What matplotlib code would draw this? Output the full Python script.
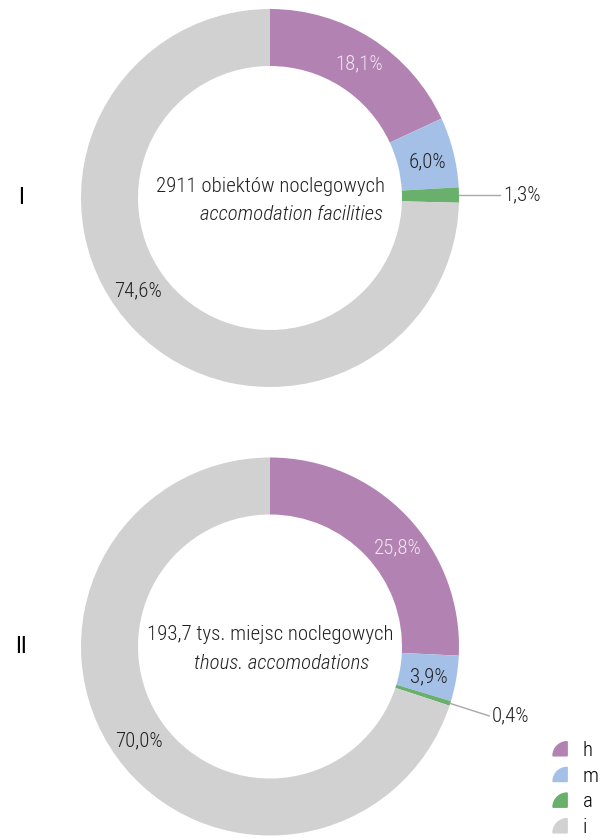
import matplotlib
matplotlib.use("Agg")
import numpy as np
import matplotlib.pyplot as plt
from matplotlib import font_manager
from matplotlib.patches import Wedge, Patch
from matplotlib.legend_handler import HandlerPatch

# data
categories = ["h", "m", "a", "i"]
shares_I = [18.1, 6.0, 1.3, 74.6]
shares_II = [25.8, 3.9, 0.4, 70.0]
labels_I = ["18,1%", "6,0%", "1,3%", "74,6%"]
labels_II = ["25,8%", "3,9%", "0,4%", "70,0%"]
title_I = ("2911 obiektów noclegowych", "accomodation facilities")
title_II = ("193,7 tys. miejsc noclegowych", "thous. accomodations")

colors = ["#b283b2", "#a5c0e6", "#68b06c", "#d1d1d1"]
label_colors = ["#efe6ef", "#222222", "#222222", "#222222"]

# pick a condensed font if there is one
have = {f.name for f in font_manager.fontManager.ttflist}
family = "DejaVu Sans"
for cand in ["Roboto Condensed", "Barlow Semi Condensed", "Archivo Narrow", "Asap Condensed"]:
    if cand in have:
        family = cand
        break
plt.rcParams["font.family"] = [family, "DejaVu Sans"]
plt.rcParams["font.weight"] = "light"

W, H = 607, 839
R, RING = 189, 57
FS = 15
fig = plt.figure(figsize=(W / 100, H / 100), dpi=100)
ax = fig.add_axes([0, 0, 1, 1])


def donut(cx, cy, vals, labs, title, roman, nudges, outside, t2x):
    wedges, _ = ax.pie(vals, colors=colors, startangle=90, counterclock=False,
                       radius=R, center=(cx, cy), frame=True,
                       wedgeprops=dict(width=RING, linewidth=0))
    total = sum(vals)
    cum = np.cumsum([0] + list(vals))[:-1]
    for i, (v, lab) in enumerate(zip(vals, labs)):
        mid = (cum[i] + v / 2) / total * 360
        if i == 2:
            # small slice: label outside with a leader line
            a = np.radians(mid)
            x0, y0 = cx + R * np.sin(a), cy + R * np.cos(a)
            x1, y1 = x0 + outside[0], y0 + outside[1]
            ax.plot([x0, x1], [y0, y1], color="#a8a8a8", lw=1)
            ax.text(x1 + 3, y1, lab, ha="left", va="center", fontsize=FS, color="#222222")
            continue
        a = np.radians(mid + nudges[i])
        r = R - RING / 2 + 1
        ax.text(cx + r * np.sin(a), cy + r * np.cos(a), lab, ha="center", va="center",
                fontsize=FS, color=label_colors[i])
    ax.text(cx, cy + 12, title[0], ha="center", va="center", fontsize=FS, color="#222222")
    ax.text(cx + t2x, cy - 17, title[1], ha="center", va="center", fontsize=FS,
            style="italic", color="#222222")
    ax.text(21, cy, roman, ha="center", va="center", fontsize=17, weight="normal", color="#000000")
    return wedges


donut(270, H - 198, shares_I, labels_I, title_I, "I", [1, 1, 0, 9], (41, 0), 21)
donut(270, H - 646.5, shares_II, labels_II, title_II, "II", [6, 1, 0, 0], (39, -12.5), 12)

ax.set_xlim(0, W)
ax.set_ylim(0, H)
ax.set_aspect("equal")
ax.axis("off")


def quarter(legend, orig_handle, xdescent, ydescent, width, height, fontsize):
    s = min(width, height)
    return Wedge((-xdescent + s, -ydescent), s, 90, 180)


handles = [Patch(color=c, label=k) for c, k in zip(colors, categories)]
ax.legend(handles=handles, loc="upper left", bbox_to_anchor=(553 / W, 1 - 741 / H),
          frameon=False, fontsize=FS, handlelength=0.68, handleheight=0.68,
          handletextpad=0.75, labelspacing=0.32, borderpad=0, borderaxespad=0,
          handler_map={Patch: HandlerPatch(patch_func=quarter)})

fig.savefig("out.png", dpi=100)
